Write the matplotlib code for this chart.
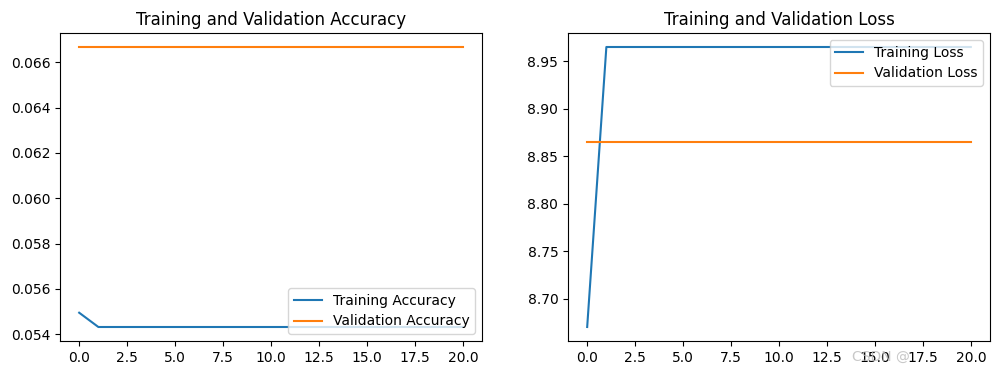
import matplotlib
matplotlib.use("Agg")
import matplotlib.pyplot as plt

epochs = list(range(21))
train_acc = [0.05495] + [0.05432] * 20
val_acc = [0.06667] * 21
train_loss = [8.670] + [8.965] * 20
val_loss = [8.865] * 21

fig = plt.figure(figsize=(9.99, 3.74), dpi=100)
ax1 = fig.add_axes([60/999, 33/374*0 + (374-341)/374, 422/999, 308/374])
ax2 = fig.add_axes([568/999, (374-341)/374, 422/999, 308/374])

ax1.plot(epochs, train_acc, label='Training Accuracy')
ax1.plot(epochs, val_acc, label='Validation Accuracy')
ax1.legend(loc='lower right')
ax1.set_title('Training and Validation Accuracy')

ax2.plot(epochs, train_loss, label='Training Loss')
ax2.plot(epochs, val_loss, label='Validation Loss')
ax2.legend(loc='upper right')
ax2.set_title('Training and Validation Loss')

fig.text(0.853, 0.035, 'CSDN @', color='#bbbbbb', fontsize=10, alpha=0.8)

fig.savefig('out.png', dpi=100)
